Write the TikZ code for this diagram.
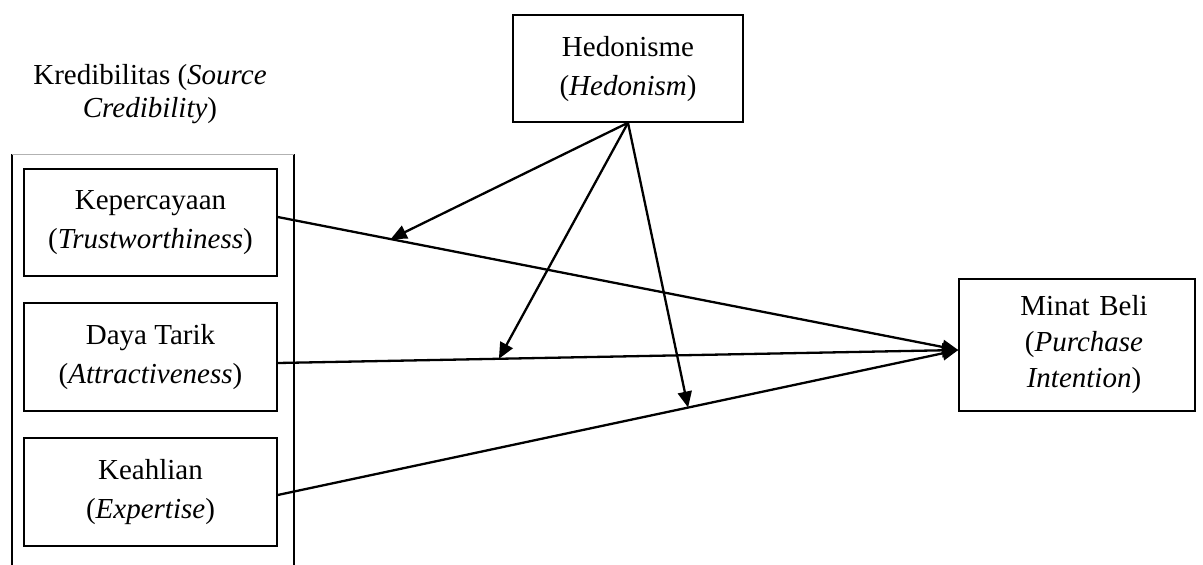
\documentclass[tikz,border=0pt]{standalone}
\usepackage{fontspec}
\setmainfont{Liberation Serif}
\usetikzlibrary{arrows.meta,calc}
\begin{document}
\begin{tikzpicture}[x=1pt,y=-1pt,
  box/.style={draw,line width=1.5pt,align=center,inner sep=0pt,
    font=\fontsize{29}{39}\selectfont},
  lbl/.style={align=center,inner sep=0pt,font=\fontsize{29}{33}\selectfont},
  conn/.style={line width=2.3pt,-{Triangle[length=16pt,width=14pt]}},
  frameline/.style={line width=1.5pt}]
\useasboundingbox (0,0) rectangle (1203,565);
% group frame
\coordinate (ftl) at (12,154);
\coordinate (ftr) at (294,154);
\coordinate (fbl) at (12,565);
\coordinate (fbr) at (294,565);
\draw[frameline] (ftl) -- (fbl);
\draw[frameline] (ftr) -- (fbr);
\draw[gray!60,line width=0.8pt] (ftl) -- (ftr);
\node[lbl] (kred) at (150,94) {Kredibilitas (\textit{Source}\\\textit{Credibility})};
% nodes
\node[box,minimum width=253pt,minimum height=107pt] (k) at (150.5,222.5)
  {Kepercayaan\\(\textit{Trustworthiness})};
\node[box,minimum width=253pt,minimum height=108pt] (d) at (150.5,357)
  {Daya Tarik\\(\textit{Attractiveness})};
\node[box,minimum width=253pt,minimum height=108pt] (e) at (150.5,492)
  {Keahlian\\(\textit{Expertise})};
\node[box,minimum width=230pt,minimum height=107pt] (h) at (628,68.5)
  {\raisebox{4pt}{\begin{tabular}{@{}c@{}}Hedonisme\\(\textit{Hedonism})\end{tabular}}};
\node[box,minimum width=236pt,minimum height=132pt,text width=236pt,
  font=\fontsize{29}{36}\selectfont] (m) at (1077,345)
  {\hspace*{14pt}Minat Beli\\\hspace*{14pt}(\textit{Purchase}\\\hspace*{14pt}\textit{Intention})};
% connector ends
\coordinate (ks) at ([yshift=5.5pt]k.east);
\coordinate (ds) at ([yshift=-6pt]d.east);
\coordinate (es) at ([yshift=-3pt]e.east);
\coordinate (mt) at ([yshift=-5pt]m.west);
\draw[conn] (ks) -- (mt);
\draw[conn] (ds) -- (mt);
\draw[conn] (es) -- (mt);
% moderating arrows
\coordinate (p1) at ($(ks)!0.166!(mt)$);
\coordinate (p2) at ($(ds)!0.325!(mt)$);
\coordinate (p3) at ($(es)!0.603!(mt)$);
\draw[conn] (h.south) -- (p1);
\draw[conn] (h.south) -- (p2);
\draw[conn] (h.south) -- (p3);
\end{tikzpicture}
\end{document}
